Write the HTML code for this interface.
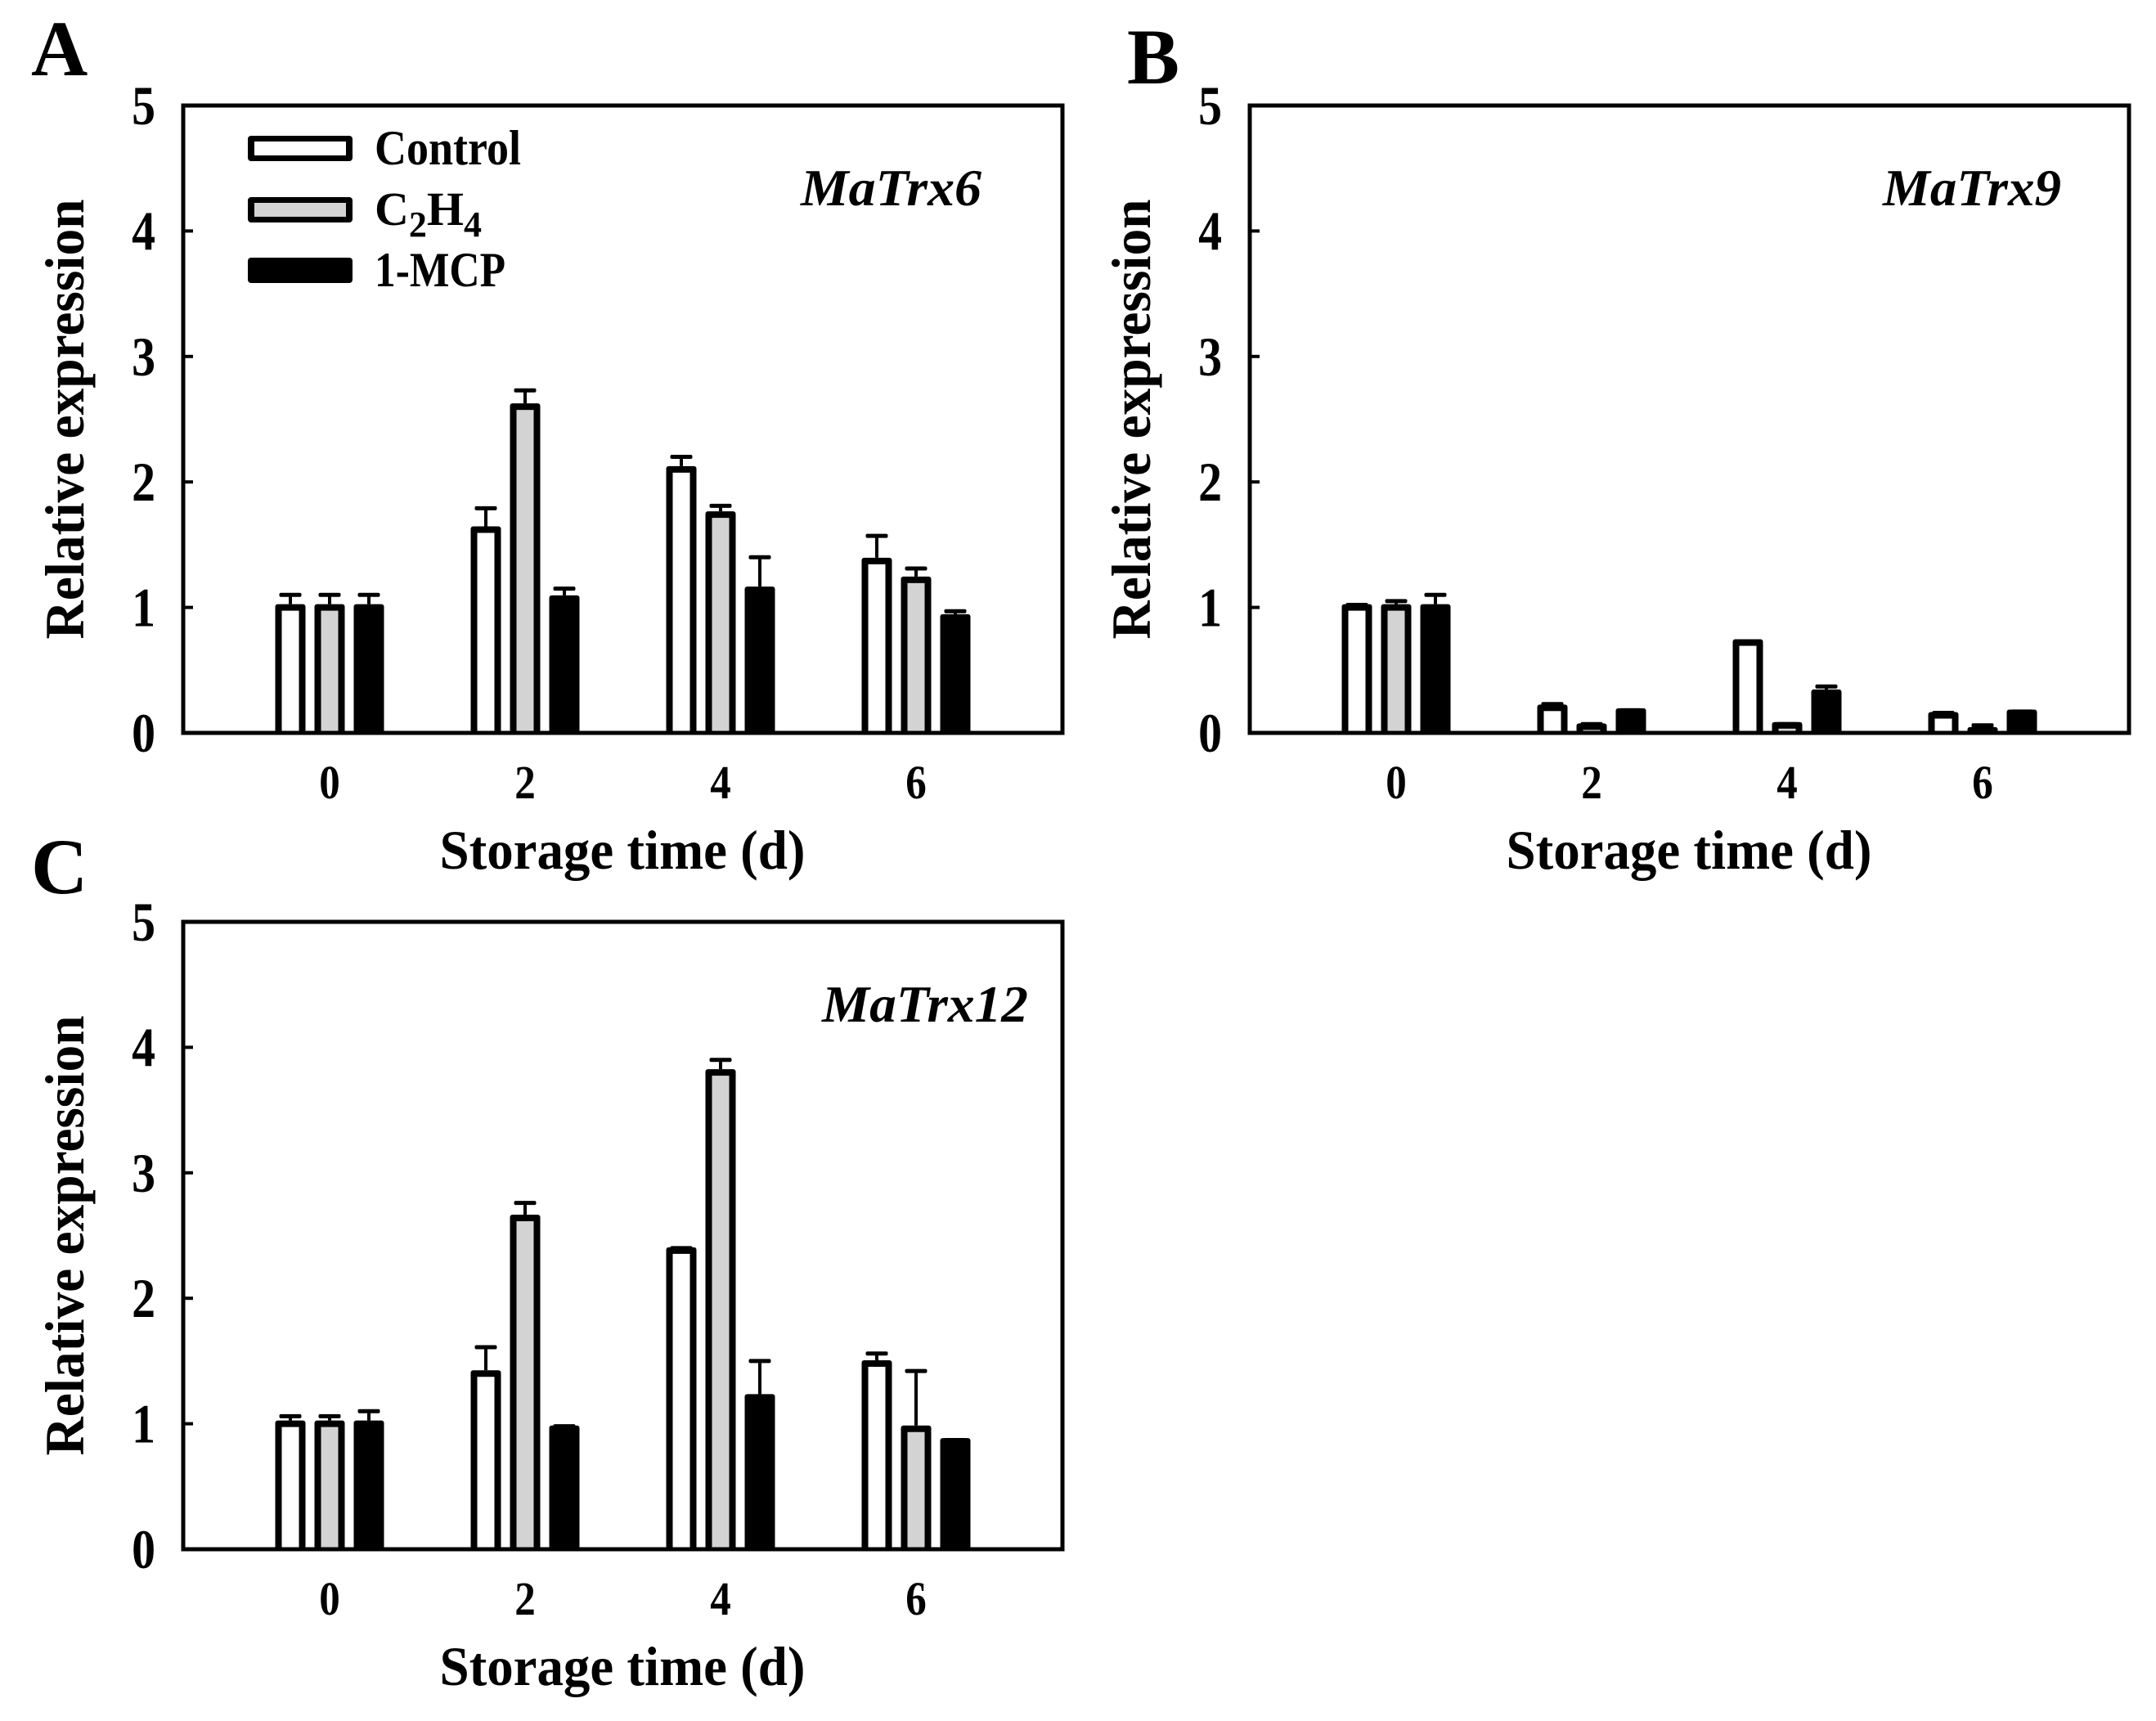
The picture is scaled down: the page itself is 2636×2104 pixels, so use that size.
<!DOCTYPE html>
<html><head><meta charset="utf-8"><style>
html,body{margin:0;padding:0;background:#fff;}
svg{display:block;}
text{font-family:"Liberation Serif",serif;font-weight:bold;fill:#000;}
</style></head><body>
<svg id="fig" xmlns="http://www.w3.org/2000/svg" width="2636" height="2104" viewBox="0 0 2636 2104">
<rect x="0" y="0" width="2636" height="2104" fill="#fff"/>
</svg>
<script>
const categories = ["0","2","4","6"];
const seriesNames = ["Control","C2H4","1-MCP"];
const yTicks = [0,1,2,3,4,5];
const a_control = [1.0,1.62,2.1,1.37];
const a_control_err = [0.1,0.17,0.1,0.2];
const a_c2h4 = [1.0,2.6,1.74,1.22];
const a_c2h4_err = [0.1,0.13,0.07,0.09];
const a_mcp = [1.0,1.07,1.14,0.92];
const a_mcp_err = [0.1,0.08,0.26,0.05];
const b_control = [1.0,0.2,0.72,0.14];
const b_control_err = [0.02,0.03,0.01,0.02];
const b_c2h4 = [1.0,0.05,0.06,0.02];
const b_c2h4_err = [0.05,0.02,0.01,0.04];
const b_mcp = [1.0,0.17,0.32,0.16];
const b_mcp_err = [0.1,0.01,0.05,0.01];
const c_control = [1.0,1.4,2.38,1.48];
const c_control_err = [0.06,0.21,0.02,0.08];
const c_c2h4 = [1.0,2.64,3.8,0.96];
const c_c2h4_err = [0.06,0.12,0.1,0.46];
const c_mcp = [1.0,0.96,1.21,0.86];
const c_mcp_err = [0.1,0.02,0.29,0.01];

const NS="http://www.w3.org/2000/svg";
const svg=document.getElementById('fig');
function mk(tag,attrs,parent){const e=document.createElementNS(NS,tag);for(const k in attrs)e.setAttribute(k,attrs[k]);(parent||svg).appendChild(e);return e;}
function txt(s,attrs,parent){const e=mk('text',attrs,parent);e.textContent=s;return e;}
const fills=["#fff","#d3d3d3","#000"];

function panel(id,letter,lx,ly,left,top,gene,geneRight,geneLen,data,legend){
  const right=left+1075,bottom=top+767;
  const g=mk('g',{});
  
  
  const yS=v=>bottom-(v/5)*(bottom-top);
  const xS=i=>left+179+i*239;
  const pl=txt(letter,{x:lx,y:ly,'font-size':96},g);
  
  
  data.forEach((s,si)=>{
    s.vals.forEach((v,i)=>{
      const cx=xS(i)+(si-1)*48, w=37, x0=cx-w/2, yt=yS(v)-4;
      const bg=mk('g',{},g);
      
      
      const e=s.err[i];
      if(e>0){
        const ye=yS(v+e);
        mk('rect',{x:cx-2,y:ye,width:4,height:Math.max(0,yt-ye),fill:'#000'},bg);
        mk('rect',{x:cx-13.5,y:ye-2.5,width:27,height:5,rx:2,fill:'#000'},bg);
      }
      mk('rect',{x:x0,y:yt,width:w,height:bottom-yt,rx:3,fill:'#000'},bg);
      if(si<2){const ih=bottom-yt-8;if(ih>0)mk('rect',{x:x0+8,y:yt+8,width:w-16,height:ih,fill:fills[si]},bg);}
    });
  });
  const box=mk('rect',{x:left,y:top,width:right-left,height:bottom-top,fill:'none',stroke:'#000','stroke-width':5},g);
  
  
  yTicks.forEach(t=>{
    const y=yS(t);
    mk('line',{x1:left,x2:left+12,y1:y,y2:y,stroke:'#000','stroke-width':4},g);
    const tl=txt(String(t),{x:0,y:0,'font-size':68,'text-anchor':'end',transform:`translate(${left-34},${y+23}) scale(0.85,1)`},g);
    
    
  });
  categories.forEach((c,i)=>{
    const tl=txt(c,{x:0,y:0,'font-size':58,'text-anchor':'middle',transform:`translate(${xS(i)},${bottom+80}) scale(0.88,1)`},g);
    
    
  });
  const yt=txt('Relative expression',{x:0,y:0,'font-size':68,'text-anchor':'middle',textLength:538,lengthAdjust:'spacingAndGlyphs',transform:`translate(${left-122},${(top+bottom)/2}) rotate(-90)`},g);
  
  
  const xt=txt('Storage time (d)',{x:left+537,y:bottom+166,'font-size':68,'text-anchor':'middle',textLength:447,lengthAdjust:'spacingAndGlyphs'},g);
  
  
  const gt=txt(gene,{x:geneRight,y:top+122,'font-size':64,'font-style':'italic','text-anchor':'end',textLength:geneLen,lengthAdjust:'spacingAndGlyphs'},g);
  
  
  if(legend){
    const ys=[166,241,315];
    seriesNames.forEach((n,si)=>{
      const lg=mk('g',{},g);
      
      
      mk('rect',{x:303,y:ys[si],width:128,height:31,rx:4,fill:'#000'},lg);
      if(si<2)mk('rect',{x:311,y:ys[si]+7,width:112,height:17,fill:fills[si]},lg);
      if(si===1){
        const t=mk('text',{x:458,y:ys[si]+34,'font-size':58},lg);
        t.innerHTML='C<tspan font-size="44" dy="14">2</tspan><tspan dy="-14">H</tspan><tspan font-size="44" dy="14">4</tspan>';
      } else {
        const t=mk('text',{x:458,y:ys[si]+35,'font-size':60,textLength:si===0?179:160,lengthAdjust:'spacingAndGlyphs'},lg);
        t.textContent=n;
      }
    });
  }
}
panel('a','A',38,92,224,129,'MaTrx6',1200,221,[{vals:a_control,err:a_control_err},{vals:a_c2h4,err:a_c2h4_err},{vals:a_mcp,err:a_mcp_err}],true);
panel('b','B',1378,102,1528,129,'MaTrx9',2520,218,[{vals:b_control,err:b_control_err},{vals:b_c2h4,err:b_c2h4_err},{vals:b_mcp,err:b_mcp_err}],false);
panel('c','C',38,1092,224,1127,'MaTrx12',1257,252,[{vals:c_control,err:c_control_err},{vals:c_c2h4,err:c_c2h4_err},{vals:c_mcp,err:c_mcp_err}],false);
</script>
</body></html>
